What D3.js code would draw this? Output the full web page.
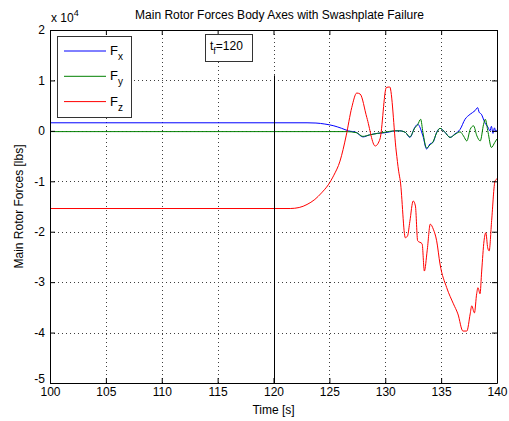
<!DOCTYPE html>
<html>
<head>
<meta charset="utf-8">
<script src="https://cdn.jsdelivr.net/npm/d3@7"></script>
<style>
  body { margin: 0; background: #fff; }
  text { font-family: "Liberation Sans", Arial, sans-serif; }
</style>
</head>
<body>
<div id="chart"></div>
<script>
// Fx series (time [s], force [lbs])
const fxTime = [100, 123.0, 123.8, 124.6, 125.4, 126.1, 126.7, 127.4, 128.0, 128.6, 129.3, 129.9, 130.4, 130.9, 131.3, 131.8, 132.2, 132.65, 132.9, 133.37, 133.7, 134.0, 134.27, 134.6, 134.9, 135.35, 135.8, 136.24, 136.7, 137.14, 137.6, 138.03, 138.27, 138.4, 138.6, 138.9, 139.2, 139.37, 139.5, 139.64, 139.77, 139.9, 140];
const fxValue = [1600, 1600, 1550, 1350, 1000, 500, 0, -300, -1200, -800, -500, -400, -200, 0, 0, -300, -1300, 700, 1300, -1000, -3600, -2600, -2300, -300, 500, -300, -1300, -600, 300, 2300, 3300, 4000, 4600, 3700, 3300, 1700, 700, 0, 900, -500, 600, -200, 200];

// Fy series
const fyTime = [100, 126.5, 127.4, 128.0, 128.6, 129.3, 129.9, 130.4, 130.9, 131.3, 131.8, 132.2, 132.65, 132.9, 133.17, 133.37, 133.7, 134.0, 134.27, 134.6, 134.9, 135.35, 135.8, 136.24, 136.7, 137.0, 137.3, 137.6, 137.9, 138.2, 138.5, 138.8, 138.95, 139.2, 139.5, 139.8, 140];
const fyValue = [-150, -150, -350, -1100, -800, -500, -300, -100, 0, 0, -300, -1200, 600, 1200, 2300, -300, -3400, -2800, -2200, -400, 500, -300, -1300, -700, -200, -1000, -2000, 300, 1000, -1000, -2000, 1300, 2300, -300, -3300, -2300, -1600];

// Fz series
const fzTime = [100, 121.5, 122.3, 123.0, 123.7, 124.3, 124.9, 125.4, 125.95, 126.5, 127.0, 127.45, 127.75, 128.35, 129.1, 129.53, 130.1, 130.4, 130.98, 131.2, 131.35, 131.8, 132.0, 132.2, 132.5, 132.7, 132.9, 133.3, 133.5, 133.75, 134.03, 134.3, 134.6, 134.9, 135.5, 136.1, 136.5, 136.95, 137.3, 137.6, 137.74, 137.98, 138.18, 138.3, 138.48, 138.63, 138.84, 139.0, 139.17, 139.3, 139.52, 139.82, 140];
const fzValue = [-15400, -15400, -15200, -14600, -13600, -12300, -10700, -8800, -6000, -1000, 4600, 7500, 7300, 2650, -3000, -1600, 8600, 8700, -4000, -8000, -10000, -21200, -20800, -18000, -13900, -14900, -21800, -22400, -27800, -23800, -18500, -19500, -21800, -26400, -31100, -34300, -36300, -39700, -39700, -36300, -34700, -36100, -32300, -31100, -32300, -27800, -21800, -20200, -23200, -23800, -17800, -10000, -9500];

const xTicks = [100, 105, 110, 115, 120, 125, 130, 135, 140];
const yTicks = [-50000, -40000, -30000, -20000, -10000, 0, 10000, 20000];
const failTime = 120;
const failLineTop = 11000;

const seriesNames = ["x", "y", "z"];
const seriesColors = ["#0000ff", "#008000", "#ff0000"];

const width = 509;
const height = 421;
const margin = { top: 30, right: 12, bottom: 38, left: 50 };

const svg = d3.select("#chart").append("svg")
  .attr("width", width)
  .attr("height", height);

const x = d3.scaleLinear().domain([100, 140]).range([margin.left, width - margin.right]);
const y = d3.scaleLinear().domain([-50000, 20000]).range([height - margin.bottom, margin.top]);

// grid
const grid = svg.append("g")
  .attr("stroke", "#000")
  .attr("stroke-width", 1)
  .attr("stroke-dasharray", "1,3")
  .attr("opacity", 0.75);
grid.selectAll(".gx").data(xTicks.slice(1, -1)).join("line")
  .attr("x1", d => Math.round(x(d)) + 0.5).attr("x2", d => Math.round(x(d)) + 0.5)
  .attr("y1", y(-50000)).attr("y2", y(20000));
grid.selectAll(".gy").data(yTicks.slice(1, -1)).join("line")
  .attr("y1", d => Math.round(y(d)) + 0.5).attr("y2", d => Math.round(y(d)) + 0.5)
  .attr("x1", x(100)).attr("x2", x(140));

// lines
const line = d3.line().x(d => x(d[0])).y(d => y(d[1])).curve(d3.curveMonotoneX);
const series = [
  d3.zip(fxTime, fxValue),
  d3.zip(fyTime, fyValue),
  d3.zip(fzTime, fzValue)
];
svg.append("g").selectAll("path").data(series).join("path")
  .attr("fill", "none")
  .attr("stroke", (d, i) => seriesColors[i])
  .attr("stroke-width", 1)
  .attr("stroke-linejoin", "round")
  .attr("d", line);

// failure time marker
svg.append("line")
  .attr("x1", Math.round(x(failTime)) + 0.5).attr("x2", Math.round(x(failTime)) + 0.5)
  .attr("y1", y(-50000)).attr("y2", y(failLineTop))
  .attr("stroke", "#000");

// axes
function styleAxis(g) {
  g.select(".domain").attr("stroke", "#000");
  g.selectAll(".tick line").attr("stroke", "#000");
  g.selectAll(".tick text").attr("font-size", "12px").attr("fill", "#000")
    .attr("font-family", "Liberation Sans, Arial, sans-serif");
}

svg.append("g")
  .attr("transform", `translate(0,${height - margin.bottom})`)
  .call(d3.axisBottom(x).tickValues(xTicks).tickSize(-5).tickPadding(4).tickSizeOuter(0))
  .call(styleAxis);

svg.append("g")
  .attr("transform", `translate(0,${margin.top})`)
  .call(d3.axisTop(x).tickValues(xTicks).tickSize(-5).tickFormat("").tickSizeOuter(0))
  .call(styleAxis);

svg.append("g")
  .attr("transform", `translate(${margin.left},0)`)
  .call(d3.axisLeft(y).tickValues(yTicks).tickSize(-5).tickPadding(5).tickSizeOuter(0)
    .tickFormat(d => d / 10000))
  .call(styleAxis)
  .call(g => g.selectAll(".tick text").filter(d => d === -50000).attr("dy", "-0.05em"));

svg.append("g")
  .attr("transform", `translate(${width - margin.right},0)`)
  .call(d3.axisRight(y).tickValues(yTicks).tickSize(-5).tickFormat("").tickSizeOuter(0))
  .call(styleAxis);

// exponent label
const expo = svg.append("text")
  .attr("x", margin.left + 1).attr("y", 22)
  .attr("font-size", "12px");
expo.append("tspan").text("x 10");
expo.append("tspan").attr("dy", -6).attr("font-size", "9px").text("4");

// title
svg.append("text")
  .attr("x", (margin.left + width - margin.right) / 2 + 6)
  .attr("y", 19)
  .attr("text-anchor", "middle")
  .attr("font-size", "12px")
  .text("Main Rotor Forces Body Axes with Swashplate Failure");

// axis labels
svg.append("text")
  .attr("x", x(120)).attr("y", 414)
  .attr("text-anchor", "middle")
  .attr("font-size", "12px")
  .text("Time [s]");

svg.append("text")
  .attr("transform", `translate(23,${y(-15000)}) rotate(-90)`)
  .attr("text-anchor", "middle")
  .attr("font-size", "12px")
  .text("Main Rotor Forces [lbs]");

// legend
const legend = svg.append("g");
legend.append("rect")
  .attr("x", 57.5).attr("y", 36.5).attr("width", 74).attr("height", 81)
  .attr("fill", "#fff").attr("stroke", "#333");
seriesNames.forEach((name, i) => {
  const ly = 51 + i * 25.3;
  legend.append("line")
    .attr("x1", 64).attr("x2", 106).attr("y1", ly).attr("y2", ly)
    .attr("stroke", seriesColors[i]);
  const t = legend.append("text").attr("x", 110).attr("y", ly + 4).attr("font-size", "13px");
  t.append("tspan").text("F");
  t.append("tspan").attr("dy", 5).attr("font-size", "10px").text(name);
});

// failure time annotation box
svg.append("rect")
  .attr("x", 205.5).attr("y", 34.5).attr("width", 47).attr("height", 27)
  .attr("fill", "#fff").attr("stroke", "#333");
const tf = svg.append("text").attr("x", 210).attr("y", 50).attr("font-size", "12px");
tf.append("tspan").text("t");
tf.append("tspan").attr("dy", 4).attr("font-size", "9px").text("f");
tf.append("tspan").attr("dy", -4).text("=120");
</script>
</body>
</html>
